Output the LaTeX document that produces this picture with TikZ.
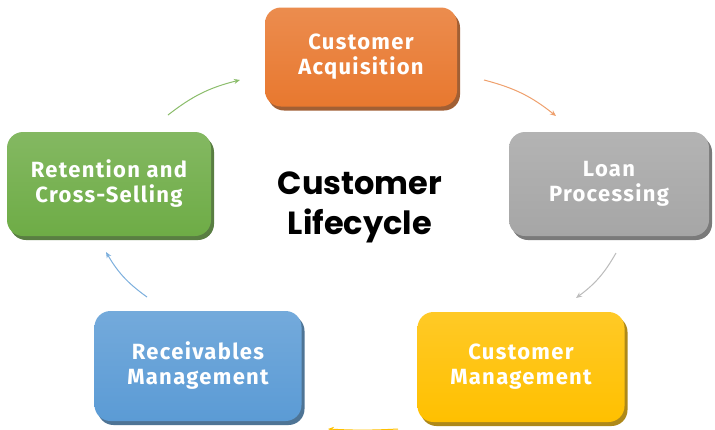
\documentclass[tikz,border=0pt]{standalone}
\usepackage{fontspec}
\setsansfont{Fira Sans}[LetterSpace=6]
\newfontfamily\titlefont{Poppins}
\usetikzlibrary{shadows,arrows.meta}

\definecolor{acqorange}{HTML}{E8782F}
\definecolor{loangrey}{HTML}{A6A6A6}
\definecolor{mgmtyellow}{HTML}{FFC000}
\definecolor{recvblue}{HTML}{5B9BD5}
\definecolor{retngreen}{HTML}{6EAC46}

\tikzset{
  tile/.style={rounded corners=16pt, top color=#1!85!white, bottom color=#1,
    draw=none, text=white, align=center,
    font=\sffamily\bfseries\fontsize{22}{25}\selectfont,
    drop shadow={shadow xshift=3pt, shadow yshift=-4pt, fill=#1!65!black, opacity=0.9}},
  cycarrow/.style={-{Stealth[length=6pt,width=5pt]}, line width=1pt, bend left=12, #1}
}

\begin{document}
\begin{tikzpicture}[x=1pt, y=-1pt]
            \clip (0,0) rectangle (715,429);
            \fill[white] (0,0) rectangle (715,429);

            \node[tile=acqorange, minimum width=192pt, minimum height=99pt] (acq) at (361,57) {Customer\\Acquisition};
            \node[tile=loangrey, minimum width=200pt, minimum height=104pt] (loan) at (609,184) {Loan\\Processing};
            \node[tile=mgmtyellow, minimum width=207pt, minimum height=110pt] (cmgmt) at (521,367) {Customer\\Management};
            \node[tile=recvblue, minimum width=207pt, minimum height=110pt] (recv) at (198,366) {Receivables\\Management};
            \node[tile=retngreen, minimum width=204pt, minimum height=104pt] (retn) at (109,184) {Retention and\\Cross-Selling};

            \node[align=center, font=\titlefont\bfseries\fontsize{32}{40}\selectfont] (life) at (360,207) {Customer\\Lifecycle};

            % loose ends of the cycle arrows
            \coordinate (g1) at (168,115); \coordinate (g2) at (240,80);
            \coordinate (o1) at (484,80);  \coordinate (o2) at (556,116);
            \coordinate (s1) at (616,253); \coordinate (s2) at (576,298);
            \coordinate (y1) at (398,429); \coordinate (y2) at (328,429);
            \coordinate (b1) at (147,297); \coordinate (b2) at (106,252);

            \draw[cycarrow=retngreen!80!white] (g1) to (g2);
            \draw[cycarrow=acqorange!70!white] (o1) to (o2);
            \draw[cycarrow=loangrey!75!white] (s1) to (s2);
            \draw[cycarrow=mgmtyellow, bend left=3] (y1) to (y2);
            \draw[cycarrow=recvblue!80!white] (b1) to (b2);
\end{tikzpicture}
\end{document}
